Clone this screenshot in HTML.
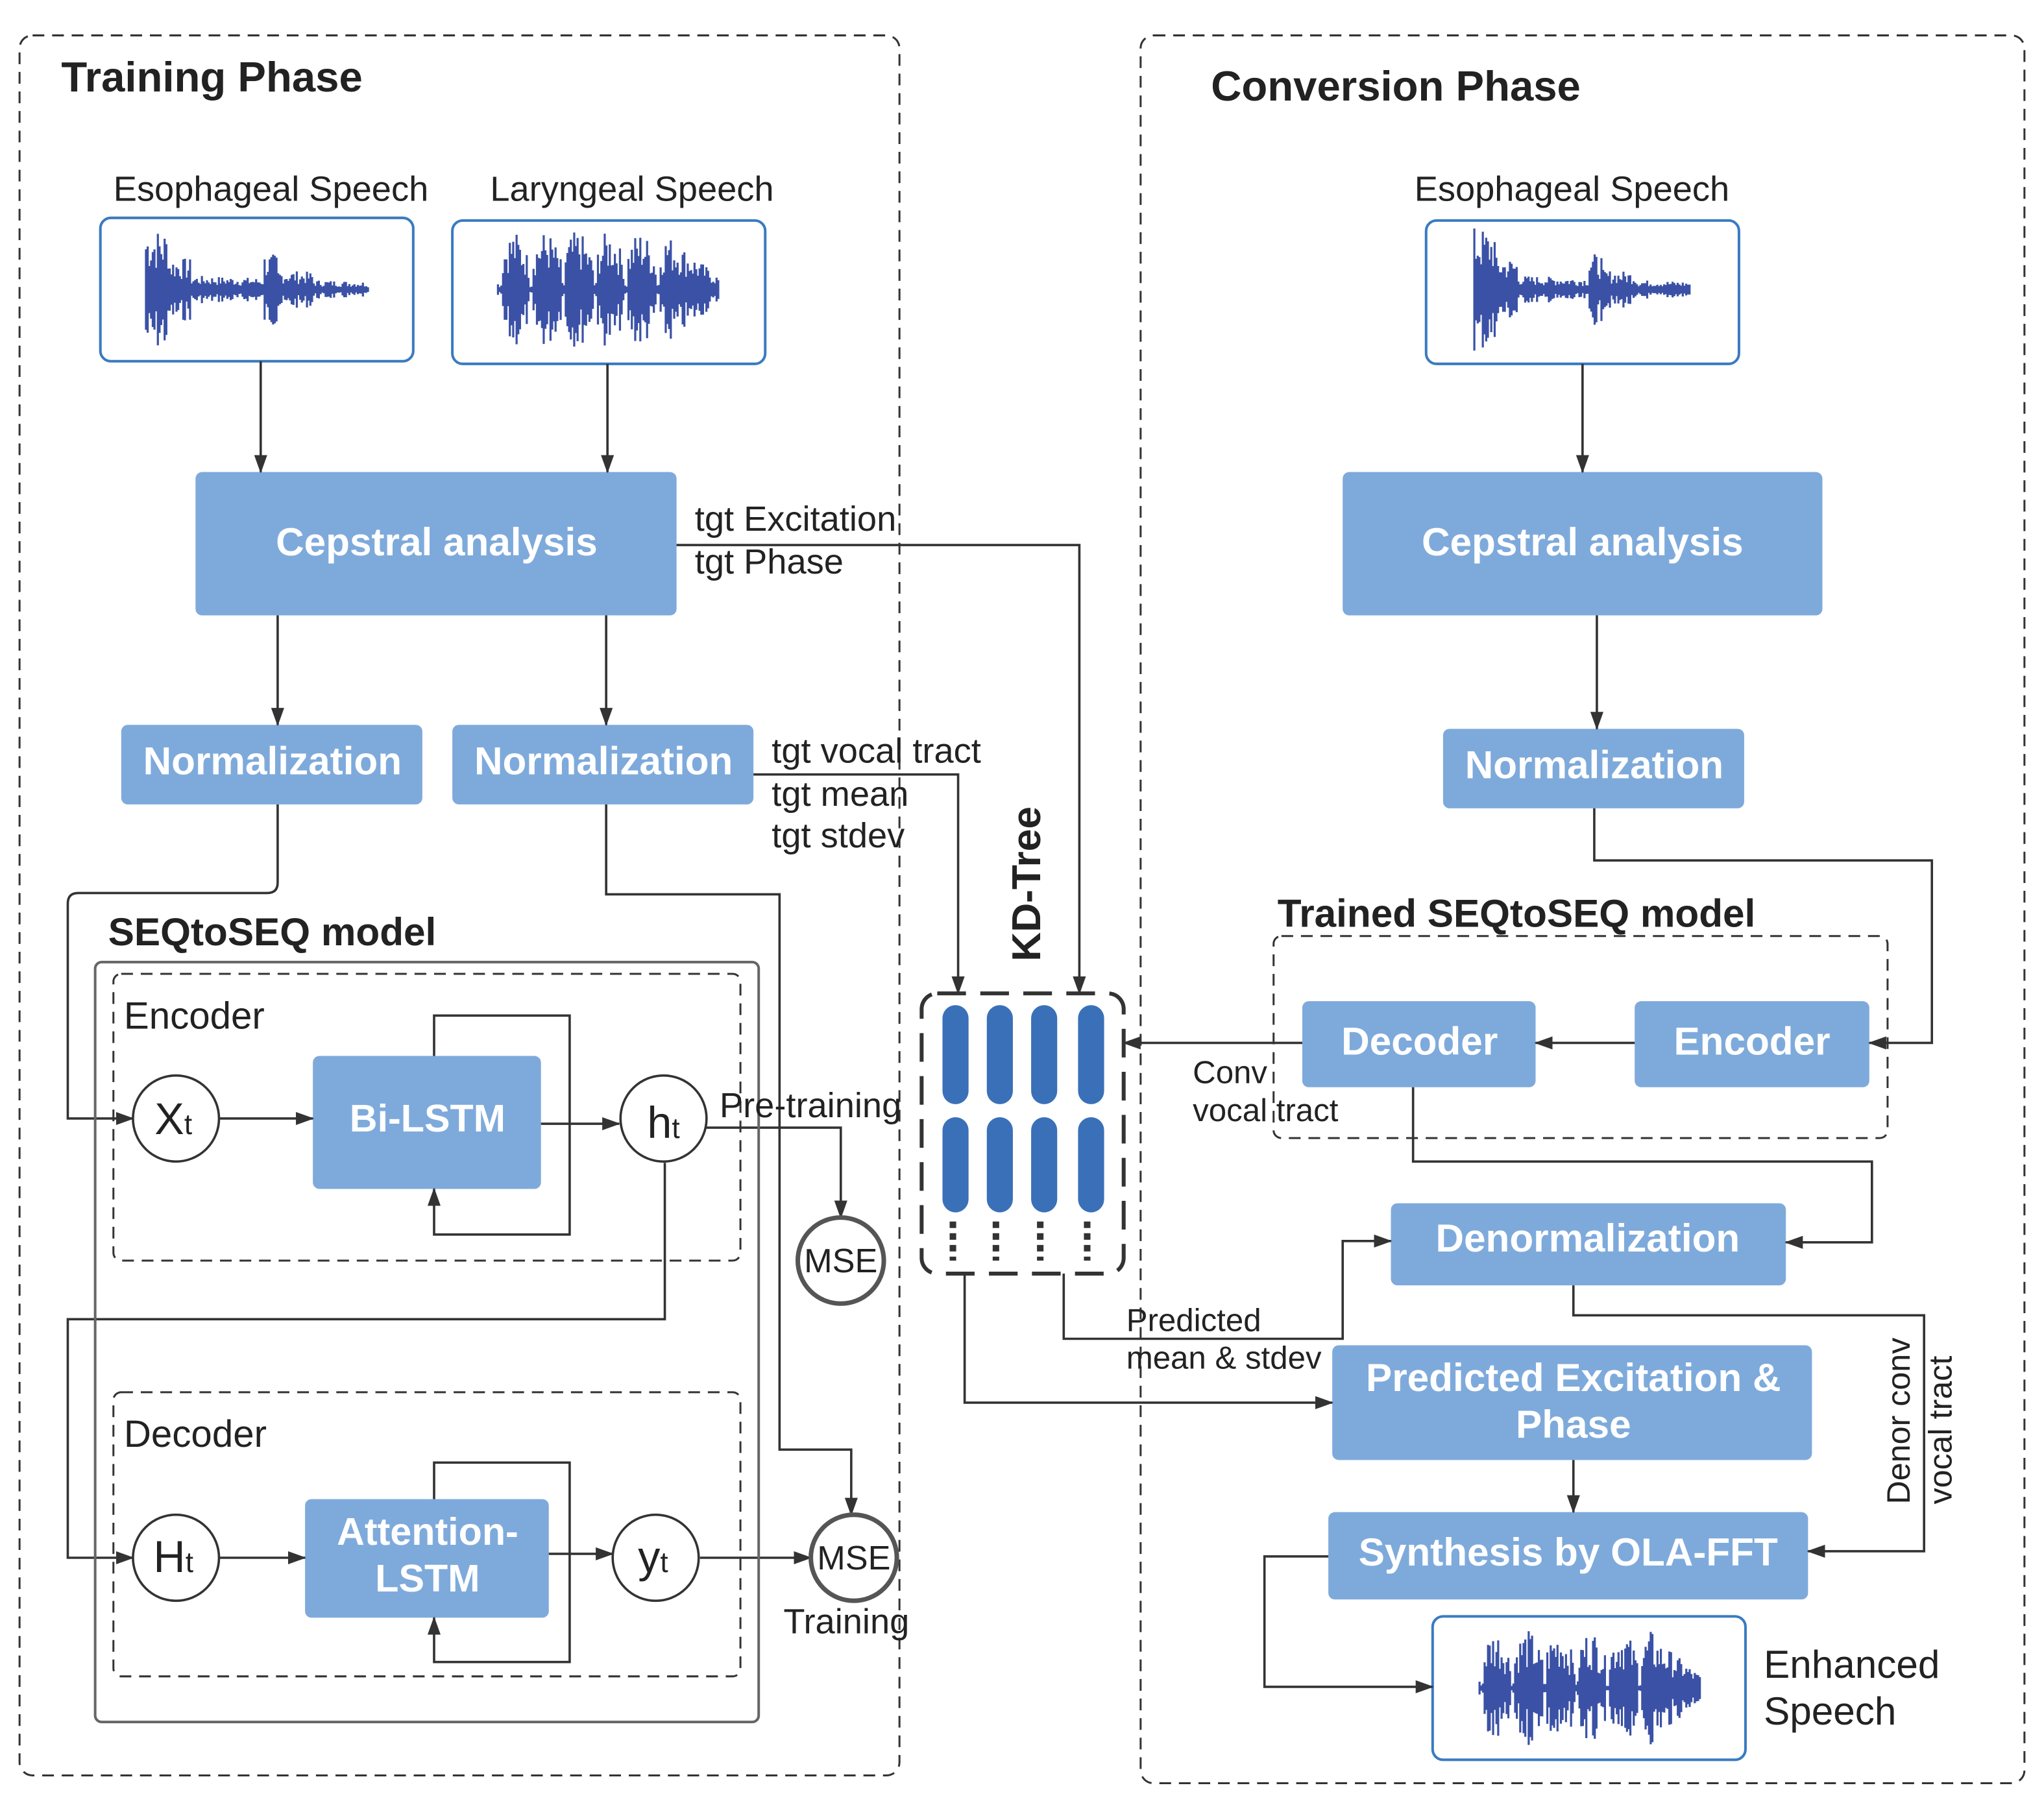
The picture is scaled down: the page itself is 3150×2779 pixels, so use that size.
<!DOCTYPE html>
<html><head><meta charset="utf-8"><style>
html,body{margin:0;padding:0;background:#fff}
svg{display:block}
text{font-family:"Liberation Sans",sans-serif;fill:#222}
.b{font-weight:bold}
.w{fill:#fff;font-weight:bold}
</style></head><body>
<svg width="3150" height="2779" viewBox="0 0 1568 1383" xmlns="http://www.w3.org/2000/svg">
<defs>
<marker id="a" viewBox="0 0 14 10" refX="13" refY="5" markerWidth="14" markerHeight="10" orient="auto" markerUnits="userSpaceOnUse">
<path d="M0,0 L14,5 L0,10 z" fill="#333"/>
</marker>
</defs>
<g fill="none" stroke="#333" stroke-width="1.5" stroke-dasharray="9,6">
<rect x="15" y="27" width="675" height="1335" rx="10"/>
<rect x="875" y="27" width="678" height="1341" rx="10"/>
</g>
<text x="47" y="70" font-size="32.5" class="b">Training Phase</text>
<text x="929" y="77" font-size="32.5" class="b">Conversion Phase</text>

<text x="87" y="154" font-size="27">Esophageal Speech</text>
<text x="376" y="154" font-size="27">Laryngeal Speech</text>
<text x="1085" y="154" font-size="27">Esophageal Speech</text>
<g fill="#fff" stroke="#3a7bc0" stroke-width="2">
<rect x="77" y="167" width="240" height="110" rx="8"/>
<rect x="347" y="169" width="240" height="110" rx="8"/>
<rect x="1094" y="169" width="240" height="110" rx="8"/>
<rect x="1099" y="1240" width="240" height="110" rx="8"/>
</g>
<g id="waves" stroke="#3a51a6" stroke-width="1.6" fill="none"></g>

<g fill="#7eaadb">
<rect x="150" y="362" width="369" height="110" rx="5"/>
<rect x="1030" y="362" width="368" height="110" rx="5"/>
<rect x="93" y="556" width="231" height="61" rx="5"/>
<rect x="347" y="556" width="231" height="61" rx="5"/>
<rect x="1107" y="559" width="231" height="61" rx="5"/>
<rect x="240" y="810" width="175" height="102" rx="5"/>
<rect x="234" y="1150" width="187" height="91" rx="5"/>
<rect x="999" y="768" width="179" height="66" rx="5"/>
<rect x="1254" y="768" width="180" height="66" rx="5"/>
<rect x="1067" y="923" width="303" height="63" rx="5"/>
<rect x="1022" y="1032" width="368" height="88" rx="5"/>
<rect x="1019" y="1160" width="368" height="67" rx="5"/>
</g>
<g font-size="30" text-anchor="middle">
<text x="335" y="426" class="w">Cepstral analysis</text>
<text x="1214" y="426" class="w">Cepstral analysis</text>
<text x="209" y="594" class="w">Normalization</text>
<text x="463" y="594" class="w">Normalization</text>
<text x="1223" y="597" class="w">Normalization</text>
<text x="328" y="868" font-size="29.5" class="w">Bi-LSTM</text>
<text x="328" y="1185" font-size="29.5" class="w">Attention-</text>
<text x="328" y="1221" font-size="29.5" class="w">LSTM</text>
<text x="1089" y="809" class="w">Decoder</text>
<text x="1344" y="809" class="w">Encoder</text>
<text x="1218" y="960" class="w">Denormalization</text>
<text x="1207" y="1067" class="w">Predicted Excitation &amp;</text>
<text x="1207" y="1103" class="w">Phase</text>
<text x="1203" y="1201" class="w">Synthesis by OLA-FFT</text>
</g>

<g fill="none" stroke="#333" stroke-width="1.8">
<path d="M200 277V362" marker-end="url(#a)"/>
<path d="M466 279V362" marker-end="url(#a)"/>
<path d="M1214 279V362" marker-end="url(#a)"/>
<path d="M213 472V556" marker-end="url(#a)"/>
<path d="M465 472V556" marker-end="url(#a)"/>
<path d="M1225 472V559" marker-end="url(#a)"/>
<path d="M519 418H828V762" marker-end="url(#a)"/>
<path d="M578 594H735V762" marker-end="url(#a)"/>
<path d="M213 617V677Q213 685 205 685H60Q52 685 52 693V858H102" marker-end="url(#a)"/>
<path d="M465 617V686H598V1112H653V1162" marker-end="url(#a)"/>
<path d="M168 858H240" marker-end="url(#a)"/>
<path d="M415 862H475" marker-end="url(#a)"/>
<path d="M333 810V779H437V947H333V912" marker-end="url(#a)"/>
<path d="M542 865H645V934" marker-end="url(#a)"/>
<path d="M510 892V1012H52V1195H102" marker-end="url(#a)"/>
<path d="M168 1195H234" marker-end="url(#a)"/>
<path d="M421 1192H470" marker-end="url(#a)"/>
<path d="M333 1150V1122H437V1275H333V1241" marker-end="url(#a)"/>
<path d="M537 1195H622" marker-end="url(#a)"/>
<path d="M1223 620V660H1482V800H1434" marker-end="url(#a)"/>
<path d="M1254 800H1178" marker-end="url(#a)"/>
<path d="M999 800H862" marker-end="url(#a)"/>
<path d="M1084 834V891H1436V953H1370" marker-end="url(#a)"/>
<path d="M816 977V1027H1030V952H1067" marker-end="url(#a)"/>
<path d="M740 977V1076H1022" marker-end="url(#a)"/>
<path d="M1207 986V1009H1476V1190H1387" marker-end="url(#a)"/>
<path d="M1207 1120V1160" marker-end="url(#a)"/>
<path d="M1019 1194H970V1294H1099" marker-end="url(#a)"/>
</g>

<g fill="#fff" stroke="#333" stroke-width="1.8">
<circle cx="135" cy="858" r="33"/>
<circle cx="509" cy="858" r="33"/>
<circle cx="135" cy="1195" r="33"/>
<circle cx="503" cy="1195" r="33"/>
</g>
<g fill="#fff" stroke="#555" stroke-width="3.5">
<circle cx="645" cy="967" r="33"/>
<circle cx="655" cy="1195" r="33"/>
</g>
<g font-size="34" text-anchor="middle">
<text x="133" y="870">X<tspan font-size="22">t</tspan></text>
<text x="509" y="873">h<tspan font-size="22">t</tspan></text>
<text x="133" y="1206">H<tspan font-size="22">t</tspan></text>
<text x="501" y="1206">y<tspan font-size="22">t</tspan></text>
<text x="645" y="976" font-size="26">MSE</text>
<text x="655" y="1204" font-size="26">MSE</text>
</g>

<rect x="73" y="738" width="509" height="583" rx="5" fill="none" stroke="#666" stroke-width="2"/>
<g fill="none" stroke="#333" stroke-width="1.5" stroke-dasharray="9,6">
<rect x="87" y="747" width="481" height="220" rx="6"/>
<rect x="87" y="1068" width="481" height="218" rx="6"/>
<rect x="977" y="718" width="471" height="155" rx="6"/>
</g>
<text x="83" y="725" font-size="30" class="b">SEQtoSEQ model</text>
<text x="980" y="711" font-size="30" class="b">Trained SEQtoSEQ model</text>
<text x="95" y="789" font-size="29">Encoder</text>
<text x="95" y="1110" font-size="29">Decoder</text>

<g font-size="27">
<text x="533" y="407">tgt Excitation</text>
<text x="533" y="440">tgt Phase</text>
<text x="592" y="585">tgt vocal tract</text>
<text x="592" y="618">tgt mean</text>
<text x="592" y="650">tgt stdev</text>
<text x="552" y="857">Pre-training</text>
<text x="601" y="1253">Training</text>
<text x="915" y="831" font-size="24.5">Conv</text>
<text x="915" y="860" font-size="24.5">vocal tract</text>
<text x="864" y="1021" font-size="24.5">Predicted</text>
<text x="864" y="1050" font-size="24.5">mean &amp; stdev</text>
<text x="1353" y="1287" font-size="30">Enhanced</text>
<text x="1353" y="1323" font-size="30">Speech</text>
<text transform="translate(1465,1090) rotate(-90)" text-anchor="middle" font-size="25">Denor conv</text>
<text transform="translate(1497,1097) rotate(-90)" text-anchor="middle" font-size="25">vocal tract</text>
<text transform="translate(798,678) rotate(-90)" text-anchor="middle" font-size="31" class="b">KD-Tree</text>
</g>

<rect x="707" y="762" width="155" height="215" rx="12" fill="none" stroke="#333" stroke-width="3" stroke-dasharray="22,11"/>
<g stroke="#3a70b8" stroke-width="20" stroke-linecap="round">
<path d="M733 781V837M767 781V837M801 781V837M837 781V837"/>
<path d="M733 867V920M767 867V920M801 867V920M837 867V920"/>
</g>
<g stroke="#333" stroke-width="5" stroke-dasharray="5,4">
<path d="M731 937V967M764 937V967M798 937V967M834 937V967"/>
</g>

<script>
(function(){
var g=document.getElementById('waves');
var s=7;function r(){s=(s*9301+49297)%233280;return s/233280;}
function wave(x0,x1,cy,amp,env){
 var d='';
 for(var x=x0;x<=x1;x+=1.3){
  var t=(x-x0)/(x1-x0);
  var a=amp*env(t)*(0.3+0.7*r());
  d+='M'+x.toFixed(1)+' '+(cy-a).toFixed(1)+'V'+(cy+a).toFixed(1);
 }
 var p=document.createElementNS('http://www.w3.org/2000/svg','path');
 p.setAttribute('d',d);g.appendChild(p);
}
function esoph(t){var v=0.25;if(t<0.1)v=1;else if(t<0.2)v=0.55;if(Math.abs(t-0.56)<0.03)v=0.8;if(t>0.55&&t<0.75)v=Math.max(v,0.45);return v*(1-0.5*t);}
function lar(t){var ph=(t*7)%1;var v=(ph<0.12)?0.12:0.5+0.5*Math.sin(ph*Math.PI);if(t>0.78)v=0.9*(1-(t-0.78)*3.5);return Math.max(v,0.08);}
wave(112,283,222,48,esoph);
wave(382,552,222,45,lar);
wave(1131,1297,222,48,esoph);
wave(1135,1305,1295,45,lar);
})();
</script>
</svg>
</body></html>
